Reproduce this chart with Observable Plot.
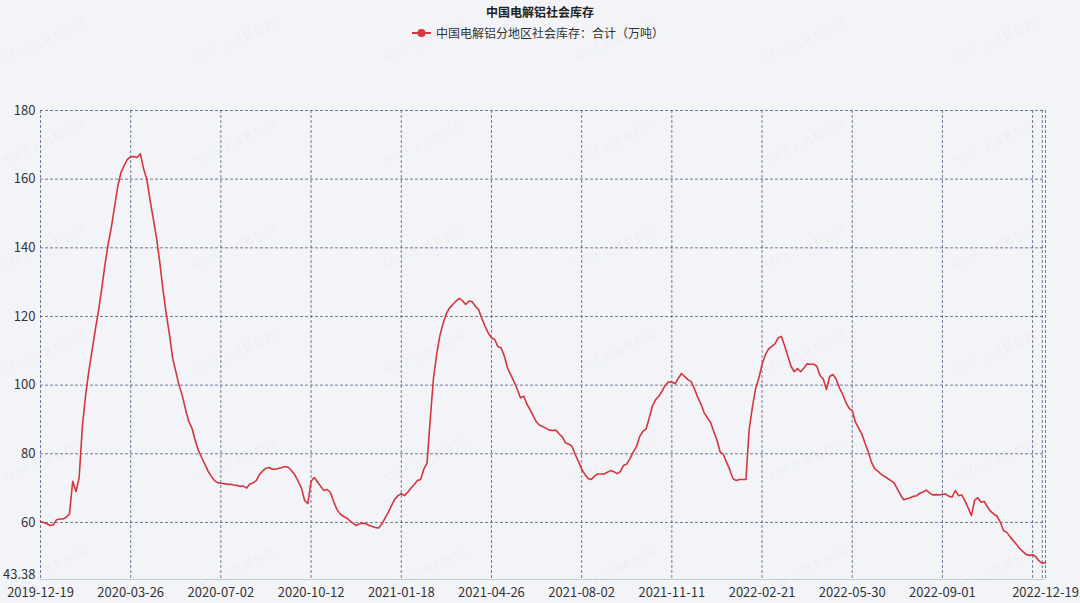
<!DOCTYPE html>
<html>
<head>
<meta charset="utf-8">
<script src="https://cdn.jsdelivr.net/npm/d3@7"></script>
<script src="https://cdn.jsdelivr.net/npm/@observablehq/plot@0.6"></script>
<style>
  html, body { margin: 0; padding: 0; background: #f3f4f7; }
  body { width: 1080px; height: 603px; overflow: hidden; position: relative; font-family: "Noto Sans CJK SC", "Noto Sans", sans-serif; }
  #header { position: relative; height: 50px; }
  #title { position: absolute; left: 0; right: 0; top: 3px; text-align: center; font-size: 12px; font-weight: bold; color: #222; }
  #legend { position: absolute; left: 412px; top: 24px; display: flex; align-items: center; font-size: 12px; color: #333; white-space: nowrap; }
  #legend svg { margin-right: 5px; }
  #wm { position: absolute; left: 0; top: 0; width: 1080px; height: 603px; pointer-events: none; }
  #wm span { position: absolute; font-size: 12px; color: rgba(0,0,0,0.045); transform: rotate(-25deg); transform-origin: left center; white-space: nowrap; font-family: "Noto Sans CJK SC", sans-serif; }
  #chart { position: relative; }
</style>
</head>
<body>
<div id="header">
  <div id="title">中国电解铝社会库存</div>
  <div id="legend"><svg width="19" height="10"><line x1="0" y1="5" x2="19" y2="5" stroke="#d5353e" stroke-width="2"/><circle cx="9.5" cy="5" r="4" fill="#d5353e"/></svg><span>中国电解铝分地区社会库存：合计（万吨）</span></div>
</div>
<div id="chart"></div>
<div id="wm"></div>
<script>
// Series: twice-weekly observations, index 0 = 2019-12-19, index 312 = 2022-12-19 (万吨)
const values = [
  60.3, 60.0, 59.6, 59.1, 59.3, 60.8, 61.0, 61.0, 61.5, 62.5,
  72.0, 69.0, 73.0, 88.0, 97.0, 104.0, 110.0, 116.0, 121.6, 128.0,
  135.0, 141.0, 146.0, 152.0, 158.0, 162.0, 164.0, 165.8, 166.5, 166.6,
  166.3, 167.4, 163.0, 160.0, 154.0, 148.5, 143.0, 136.0, 128.0, 121.0,
  115.0, 108.0, 104.0, 100.0, 97.0, 93.0, 89.5, 87.5, 84.0, 81.0,
  79.0, 77.0, 75.0, 73.5, 72.2, 71.6, 71.4, 71.3, 71.1, 71.1,
  70.9, 70.8, 70.5, 70.6, 70.0, 71.2, 71.5, 72.2, 74.0, 75.0,
  75.8, 76.0, 75.5, 75.5, 75.8, 76.0, 76.3, 76.0, 75.0, 73.8,
  72.0, 70.0, 66.4, 65.5, 72.0, 73.1, 71.8, 70.5, 69.3, 69.6,
  68.8, 66.1, 63.8, 62.5, 61.8, 61.3, 60.5, 59.8, 59.1, 59.6,
  59.8, 59.6, 59.1, 58.8, 58.5, 58.4, 59.6, 61.3, 63.0, 65.0,
  66.8, 67.8, 68.4, 67.8, 68.8, 70.0, 71.0, 72.2, 72.5, 75.5,
  77.3, 90.0, 102.0, 109.0, 114.5, 118.0, 120.8, 122.5, 123.5, 124.5,
  125.3, 124.6, 123.5, 124.5, 124.3, 123.0, 122.0, 119.5, 117.2, 115.2,
  113.8, 113.3, 111.2, 110.9, 108.5, 105.0, 103.0, 101.0, 98.8, 96.3,
  96.8, 94.5, 92.8, 91.0, 89.2, 88.3, 87.9, 87.4, 86.9, 86.8,
  86.9, 85.8, 84.9, 83.2, 82.8, 82.2, 79.8, 77.8, 75.5, 74.0,
  72.8, 72.5, 73.5, 74.1, 74.1, 74.1, 74.6, 75.1, 74.8, 74.2,
  74.8, 76.6, 77.0, 78.6, 80.5, 82.0, 85.0, 86.5, 87.2, 90.5,
  94.0, 95.8, 96.8, 98.3, 100.0, 101.0, 100.9, 100.4, 102.0, 103.4,
  102.5, 101.6, 101.0, 99.0, 96.5, 94.6, 92.0, 90.5, 89.2, 86.5,
  84.0, 80.5, 79.8, 77.5, 75.3, 72.7, 72.2, 72.5, 72.5, 72.5,
  87.0, 93.5, 99.0, 102.0, 106.0, 108.8, 110.5, 111.3, 112.0, 113.8,
  114.2, 111.5, 108.5, 105.5, 103.9, 104.8, 103.9, 105.0, 106.2, 106.1,
  106.1, 105.5, 102.8, 101.8, 98.7, 102.5, 103.1, 101.8, 99.2, 97.4,
  95.0, 93.3, 92.6, 89.2, 87.5, 85.7, 83.0, 80.5, 77.5, 75.6,
  74.9, 74.0, 73.4, 72.8, 72.2, 71.5, 69.8, 68.0, 66.6, 66.9,
  67.2, 67.6, 67.8, 68.5, 68.9, 69.4, 68.6, 68.0, 68.1, 68.0,
  68.2, 68.3, 67.6, 67.4, 69.3, 67.8, 68.0, 66.3, 64.2, 62.0,
  66.5, 67.2, 65.9, 66.1, 64.5, 63.2, 62.4, 61.8, 60.0, 57.6,
  57.1, 55.8, 54.7, 53.6, 52.4, 51.5, 50.7, 50.4, 50.6, 50.0,
  48.8, 48.1, 48.3
];

// Category-axis tick labels (every 28 observations) and their indices
const tickIndex = [0, 28, 56, 84, 112, 140, 168, 196, 224, 252, 280, 312];
const tickLabels = ["2019-12-19", "2020-03-26", "2020-07-02", "2020-10-12", "2021-01-18", "2021-04-26",
                    "2021-08-02", "2021-11-11", "2022-02-21", "2022-05-30", "2022-09-01", "2022-12-19"];
const gridIndex = [0, 28, 56, 84, 112, 140, 168, 196, 224, 252, 280, 308, 311, 312];
const yTicks = [60, 80, 100, 120, 140, 160, 180];
const yMin = 43.38;
const yMax = 180;

const data = values.map((v, i) => ({i, v}));
const labelOf = new Map(tickIndex.map((t, k) => [t, tickLabels[k]]));

const gridStyle = {stroke: "#4a4f78", strokeOpacity: 0.75, strokeDasharray: "3,2", strokeWidth: 1};

const chart = Plot.plot({
  width: 1080,
  height: 553,
  marginTop: 60,
  marginBottom: 24,
  marginLeft: 40,
  marginRight: 35,
  style: {background: "transparent", fontFamily: "'Noto Sans CJK SC', 'Noto Sans', sans-serif", fontSize: "13px", color: "#333"},
  x: {domain: [0, 312], axis: null},
  y: {domain: [yMin, yMax], axis: null},
  marks: [
    Plot.ruleY(yTicks, gridStyle),
    Plot.ruleX(gridIndex, gridStyle),
    Plot.ruleY([yMin], {stroke: "#c6c8dc", strokeWidth: 1.2}),
    Plot.line(data, {x: "i", y: "v", stroke: "#d5353e", strokeWidth: 1.6, curve: "linear"}),
    Plot.axisX(tickIndex, {tickSize: 0, tickPadding: 8, tickFormat: d => labelOf.get(d), label: null, fill: "#333"}),
    Plot.axisY(yTicks, {tickSize: 0, tickPadding: 5, tickFormat: d => String(d), label: null, fill: "#333"}),
    Plot.axisY([yMin], {tickSize: 0, tickPadding: 5, tickFormat: () => "43.38", label: null, fill: "#333", dy: -5})
  ]
});
document.getElementById("chart").appendChild(chart);

// faint watermarks
const wm = document.getElementById("wm");
const wmCols = [0, 190, 380, 570, 760, 950];
const wmRows = [58, 160, 265, 370, 478, 588];
wmRows.forEach(r => wmCols.forEach(c => {
  const s = document.createElement("span");
  s.textContent = "SMM 上海有色网";
  s.style.left = (c + 4) + "px";
  s.style.top = (r - 8) + "px";
  wm.appendChild(s);
}));
</script>
</body>
</html>
